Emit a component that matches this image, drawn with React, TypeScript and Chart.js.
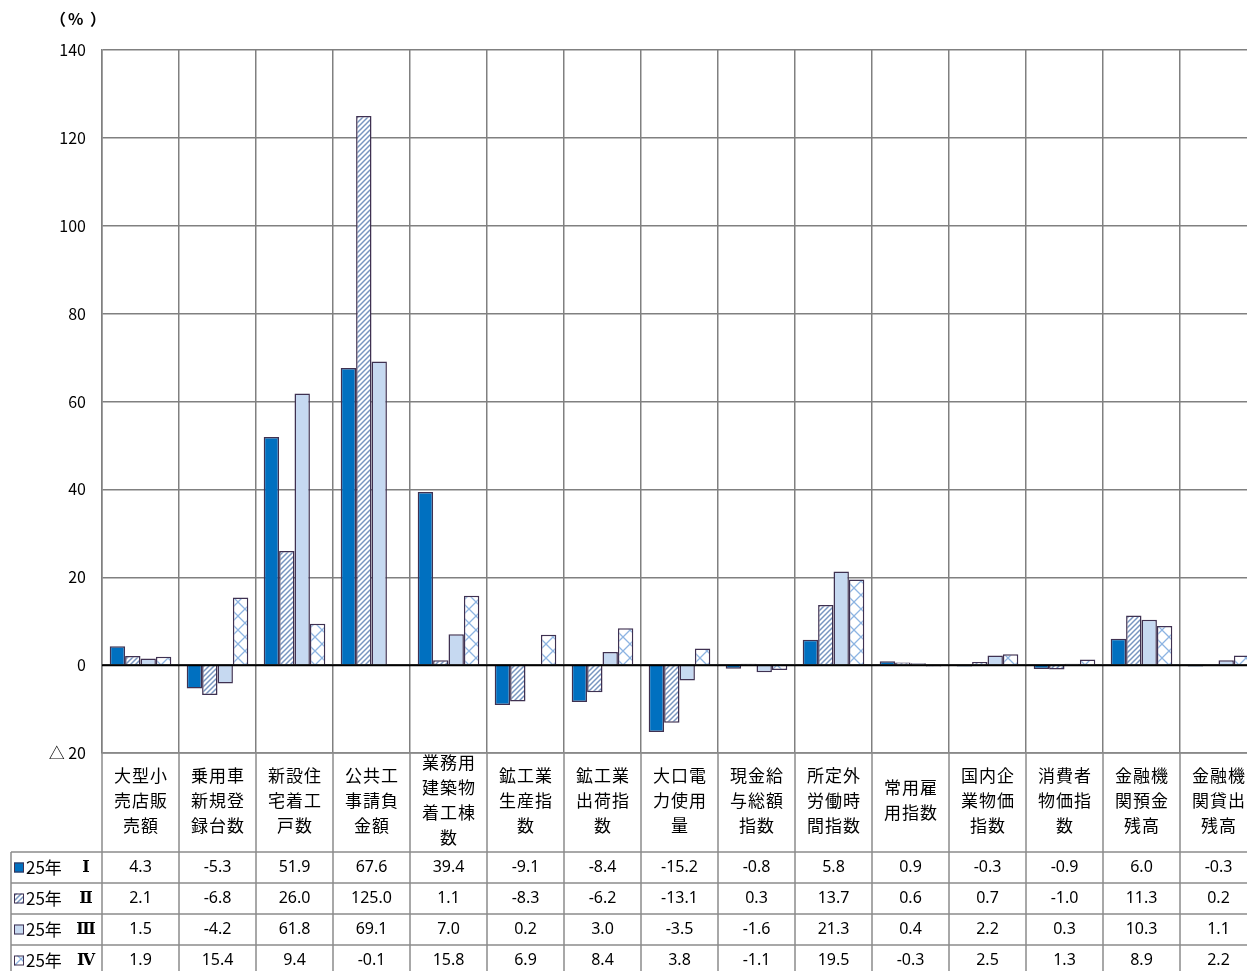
import React, { useEffect, useRef } from "react";
import { Chart, registerables } from "chart.js";

Chart.register(...registerables);

const categoryLines: string[][] = [
  ["大型小", "売店販", "売額"],
  ["乗用車", "新規登", "録台数"],
  ["新設住", "宅着工", "戸数"],
  ["公共工", "事請負", "金額"],
  ["業務用", "建築物", "着工棟", "数"],
  ["鉱工業", "生産指", "数"],
  ["鉱工業", "出荷指", "数"],
  ["大口電", "力使用", "量"],
  ["現金給", "与総額", "指数"],
  ["所定外", "労働時", "間指数"],
  ["常用雇", "用指数"],
  ["国内企", "業物価", "指数"],
  ["消費者", "物価指", "数"],
  ["金融機", "関預金", "残高"],
  ["金融機", "関貸出", "残高"],
];

const seriesYear = "25年";
const seriesQuarters = ["Ⅰ", "Ⅱ", "Ⅲ", "Ⅳ"];

const q1 = [4.3, -5.3, 51.9, 67.6, 39.4, -9.1, -8.4, -15.2, -0.8, 5.8, 0.9, -0.3, -0.9, 6.0, -0.3];
const q2 = [2.1, -6.8, 26.0, 125.0, 1.1, -8.3, -6.2, -13.1, 0.3, 13.7, 0.6, 0.7, -1.0, 11.3, 0.2];
const q3 = [1.5, -4.2, 61.8, 69.1, 7.0, 0.2, 3.0, -3.5, -1.6, 21.3, 0.4, 2.2, 0.3, 10.3, 1.1];
const q4 = [1.9, 15.4, 9.4, -0.1, 15.8, 6.9, 8.4, 3.8, -1.1, 19.5, -0.3, 2.5, 1.3, 8.9, 2.2];

const yMin = -20;
const yMax = 140;
const yStep = 20;

const FONT = "'Noto Sans CJK JP', 'Noto Sans', sans-serif";
const NUM_FONT = "'Noto Sans', 'Noto Sans CJK JP', sans-serif";
const SERIF = "'DejaVu Serif', 'Liberation Serif', serif";

function makeHatch(): CanvasPattern | string {
  const c = document.createElement("canvas");
  const s = 5;
  c.width = s;
  c.height = s;
  const g = c.getContext("2d");
  if (!g) return "#ffffff";
  g.fillStyle = "#ffffff";
  g.fillRect(0, 0, s, s);
  g.strokeStyle = "#7896c0";
  g.lineWidth = 1.5;
  g.beginPath();
  g.moveTo(-1, s + 1);
  g.lineTo(s + 1, -1);
  g.moveTo(-1, 1);
  g.lineTo(1, -1);
  g.moveTo(s - 1, s + 1);
  g.lineTo(s + 1, s - 1);
  g.stroke();
  return g.createPattern(c, "repeat") || "#ffffff";
}

function makeLattice(): CanvasPattern | string {
  const c = document.createElement("canvas");
  const s = 14;
  c.width = s;
  c.height = s;
  const g = c.getContext("2d");
  if (!g) return "#ffffff";
  g.fillStyle = "#ffffff";
  g.fillRect(0, 0, s, s);
  g.strokeStyle = "#8db4e2";
  g.lineWidth = 1.3;
  g.beginPath();
  g.moveTo(0, 0);
  g.lineTo(s, s);
  g.moveTo(s, 0);
  g.lineTo(0, s);
  g.stroke();
  return g.createPattern(c, "repeat") || "#ffffff";
}

export default function App() {
  const ref = useRef<HTMLCanvasElement | null>(null);

  useEffect(() => {
    const canvas = ref.current;
    if (!canvas) return;
    const hatch = makeHatch();
    const lattice = makeLattice();
    const fills: (string | CanvasPattern)[] = ["#0070c0", hatch, "#c6d9f1", lattice];
    const values = [q1, q2, q3, q4];
    const border = "#3f3151";
    const gridColor = "#808080";

    const tablePlugin = {
      id: "tablePlugin",
      afterDatasetsDraw(chart: any) {
        const ctx = chart.ctx;
        const { left, right } = chart.chartArea;
        const y0 = chart.scales.y.getPixelForValue(0);
        ctx.save();
        ctx.strokeStyle = "#000000";
        ctx.lineWidth = 2;
        ctx.beginPath();
        ctx.moveTo(left, y0);
        ctx.lineTo(right, y0);
        ctx.stroke();
        ctx.restore();
      },
      afterDraw(chart: any) {
        const ctx = chart.ctx;
        const { left, right, bottom } = chart.chartArea;
        const H = chart.height;
        const xs = chart.scales.x;
        const n = categoryLines.length;
        const centers = categoryLines.map((_, i) => xs.getPixelForValue(i));
        const half = (centers[1] - centers[0]) / 2;
        const edges = [centers[0] - half, ...centers.map((c) => c + half)];
        const headerBottom = bottom + 99;
        const rowH = 31;
        const tableLeft = 11;

        ctx.save();
        // "(%)" label
        ctx.fillStyle = "#000";
        ctx.font = `bold 16px ${FONT}`;
        ctx.textBaseline = "middle";
        ctx.textAlign = "left";
        ctx.fillText("（", 50, 19);
        ctx.fillText("%", 68, 19);
        ctx.fillText("）", 90, 19);

        // table lines
        ctx.strokeStyle = "#8c8c8c";
        ctx.lineWidth = 1.5;
        ctx.beginPath();
        for (let i = 0; i <= n; i++) {
          ctx.moveTo(edges[i], bottom);
          ctx.lineTo(edges[i], H);
        }
        ctx.moveTo(left, bottom);
        ctx.lineTo(right, bottom);
        for (let r = 0; r < 4; r++) {
          const y = headerBottom + r * rowH;
          ctx.moveTo(tableLeft, y);
          ctx.lineTo(right, y);
        }
        ctx.moveTo(tableLeft, headerBottom);
        ctx.lineTo(tableLeft, H);
        ctx.stroke();

        // header labels
        ctx.fillStyle = "#000";
        ctx.font = `17px ${FONT}`;
        (ctx as any).letterSpacing = "1px";
        ctx.textAlign = "center";
        ctx.textBaseline = "middle";
        const lineH = 25;
        const headerMid = (bottom + headerBottom) / 2 - 2;
        categoryLines.forEach((lines, i) => {
          const startY = headerMid - ((lines.length - 1) * lineH) / 2;
          lines.forEach((t, k) => {
            ctx.fillText(t, centers[i] + 0.5, startY + k * lineH);
          });
        });
        (ctx as any).letterSpacing = "0px";

        // rows
        values.forEach((vals, r) => {
          const cy = headerBottom + r * rowH + rowH / 2;
          ctx.font = `16px ${NUM_FONT}`;
          ctx.fillStyle = "#000";
          ctx.textAlign = "center";
          vals.forEach((v, i) => {
            ctx.fillText(v.toFixed(1), centers[i], cy);
          });
          // legend swatch
          ctx.fillStyle = fills[r] as any;
          ctx.fillRect(14, cy - 5, 10, 10);
          ctx.strokeStyle = border;
          ctx.lineWidth = 1;
          ctx.strokeRect(14.5, cy - 4.5, 9, 9);
          ctx.fillStyle = "#000";
          ctx.font = `17px ${FONT}`;
          ctx.textAlign = "left";
          ctx.fillText(seriesYear, 26, cy);
          ctx.font = `bold 16px ${SERIF}`;
          ctx.textAlign = "center";
          ctx.fillText(seriesQuarters[r], 86, cy);
        });
        ctx.restore();
      },
    };

    const chart = new Chart(canvas, {
      type: "bar",
      data: {
        labels: categoryLines.map((l) => l.join("")),
        datasets: values.map((vals, r) => ({
          label: `${seriesYear} ${seriesQuarters[r]}`,
          data: vals,
          backgroundColor: fills[r] as any,
          borderColor: border,
          borderWidth: 1.5,
          categoryPercentage: 0.8,
          barPercentage: 1.0,
        })),
      },
      options: {
        responsive: false,
        animation: false,
        devicePixelRatio: 1,
        layout: { padding: { top: 50, right: 5, left: 0, bottom: 0 } },
        plugins: {
          legend: { display: false },
          tooltip: { enabled: false },
          title: { display: false },
        },
        scales: {
          x: {
            grid: {
              offset: true,
              color: gridColor,
              lineWidth: 1.5,
              drawTicks: false,
            },
            border: { display: false },
            ticks: { display: false },
            afterFit(scale: any) {
              scale.height = 218;
            },
          },
          y: {
            min: yMin,
            max: yMax,
            grid: { color: gridColor, lineWidth: 1.5, drawTicks: false },
            border: { display: true, color: gridColor, width: 1.5 },
            ticks: {
              stepSize: yStep,
              padding: 16,
              color: "#000",
              font: { size: 16, family: FONT },
              callback: (v: any) => (Number(v) < 0 ? `△ ${Math.abs(Number(v))}` : `${v}`),
            },
            afterFit(scale: any) {
              scale.width = 102;
            },
          },
        },
      },
      plugins: [tablePlugin],
    });
    return () => chart.destroy();
  }, []);

  return (
    <div
      style={{
        position: "fixed",
        left: 0,
        top: 0,
        width: "1247px",
        height: "971px",
        overflow: "hidden",
        background: "#fff",
      }}
    >
      <canvas ref={ref} width={1262} height={971} style={{ width: "1262px", height: "971px", display: "block" }} />
    </div>
  );
}
